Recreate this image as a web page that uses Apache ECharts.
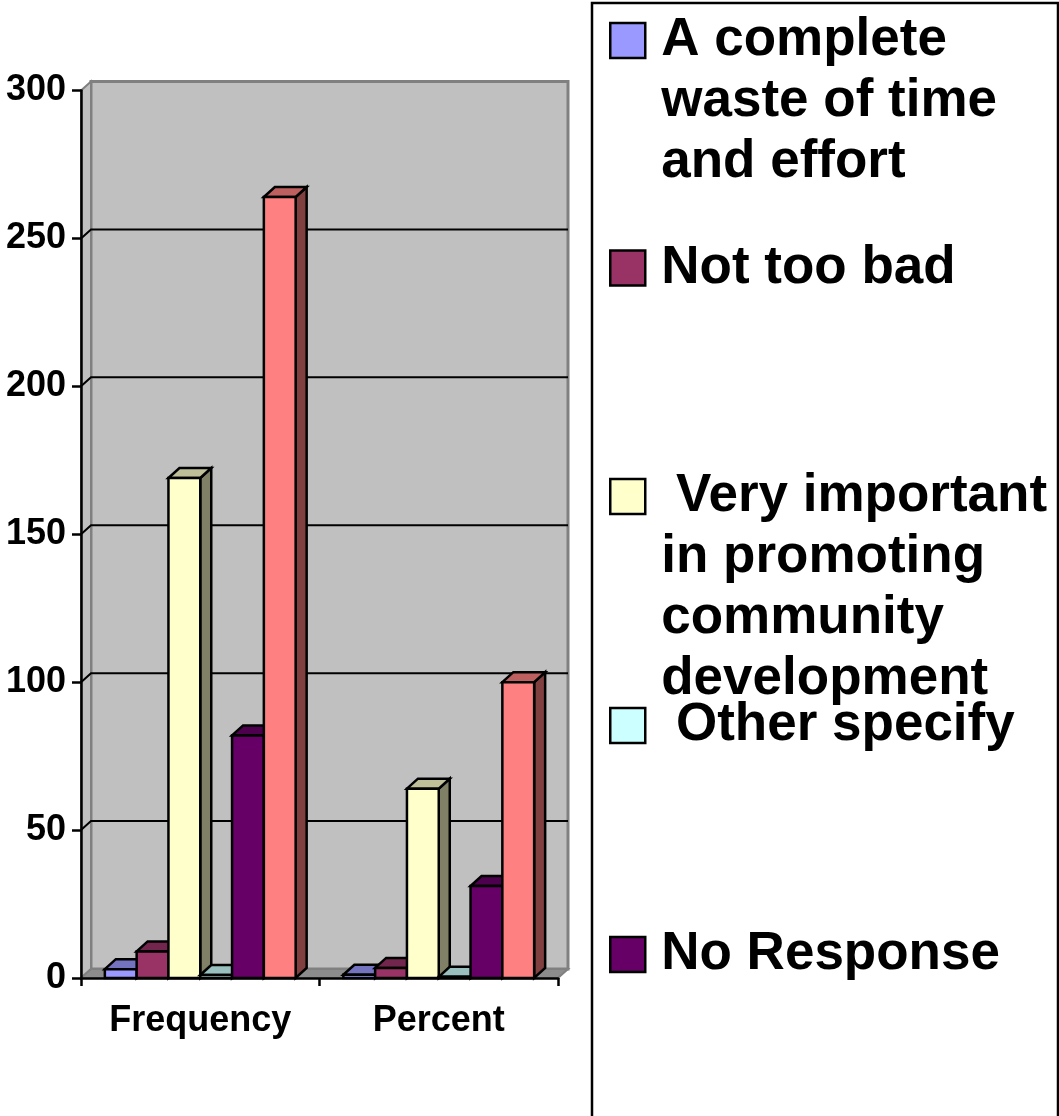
<!DOCTYPE html>
<html>
<head>
<meta charset="utf-8">
<script src="https://cdn.jsdelivr.net/npm/echarts@6/dist/echarts.min.js"></script>
<style>
  html, body { margin: 0; padding: 0; background: #fff; }
  #chart { width: 1059px; height: 1116px; }
</style>
</head>
<body>
<div id="chart"></div>
<script>
// ---- data ----
const categories = ['Frequency', 'Percent'];
const seriesNames = [
  'A complete\nwaste of time\nand effort',
  'Not too bad',
  ' Very important\nin promoting\ncommunity\ndevelopment',
  ' Other specify',
  'No Response',
  'Total'
];
const wasteOfTime   = [3, 1.1];
const notTooBad     = [9, 3.4];
const veryImportant = [169, 64.0];
const otherSpecify  = [1, 0.4];
const noResponse    = [82, 31.1];
const total         = [264, 100];
const yTicks = [0, 50, 100, 150, 200, 250, 300];

const seriesValues = [wasteOfTime, notTooBad, veryImportant, otherSpecify, noResponse, total];

// ---- look ----
const COLORS = ['#9999FF', '#993366', '#FFFFCC', '#CCFFFF', '#660066', '#FF8080'];
const FONT = '"Liberation Sans", Arial, sans-serif';
const BAR_SHARE = 0.8;       // share of a category band taken by the cluster
const DX = 11, DY = -10;     // column depth
const WDX = 10, WDY = -9;    // wall depth
const LEGEND_LINE = 61;
const LEGEND_ICON_CENTERS = [40.5, 268, 496.5, 725.5, 954.5];

function shade(hex, f) {
  const n = parseInt(hex.slice(1), 16);
  const r = Math.round(((n >> 16) & 255) * f);
  const g = Math.round(((n >> 8) & 255) * f);
  const b = Math.round((n & 255) * f);
  return 'rgb(' + r + ',' + g + ',' + b + ')';
}

// 3D column: front face, lit top, shaded side
function columnRenderer(idx, color) {
  const topFill = shade(color, 0.75);
  const sideFill = shade(color, 0.5);
  const count = seriesValues.length;
  return function (params, api) {
    const cat = api.value(0);
    const p = api.coord([cat, api.value(1)]);
    const b = api.coord([cat, 0]);
    const band = api.size([1, 0])[0];
    const w = band * BAR_SHARE / count;
    const x0 = p[0] - band * BAR_SHARE / 2 + idx * w;
    const x1 = x0 + w;
    const yt = p[1], yb = b[1];
    const edge = { stroke: '#000', lineWidth: 2.5 };
    return {
      type: 'group',
      children: [
        { type: 'polygon', shape: { points: [[x1, yt], [x1 + DX, yt + DY], [x1 + DX, yb + DY], [x1, yb]] },
          style: Object.assign({ fill: sideFill }, edge) },
        { type: 'polygon', shape: { points: [[x0, yt], [x0 + DX, yt + DY], [x1 + DX, yt + DY], [x1, yt]] },
          style: Object.assign({ fill: topFill }, edge) },
        { type: 'rect', shape: { x: x0, y: yt, width: w, height: yb - yt },
          style: Object.assign({ fill: color }, edge) }
      ]
    };
  };
}

// back wall, side wall, floor and gridlines
function wallsRenderer(params, api) {
  const cs = params.coordSys;
  const L = cs.x, R = cs.x + cs.width;
  const T = api.coord([0, yTicks[yTicks.length - 1]])[1];
  const B = api.coord([0, yTicks[0]])[1];
  const wall = '#C0C0C0', rim = '#808080';
  const children = [
    { type: 'rect', shape: { x: L + WDX, y: T + WDY, width: R - L, height: B - T },
      style: { fill: wall, stroke: rim, lineWidth: 3 } },
    { type: 'polygon', shape: { points: [[L, T], [L + WDX, T + WDY], [L + WDX, B + WDY], [L, B]] },
      style: { fill: wall, stroke: rim, lineWidth: 2 } },
    { type: 'polygon', shape: { points: [[L, B], [L + WDX, B + WDY], [R + WDX, B + WDY], [R, B]] },
      style: { fill: '#8C8C8C', stroke: rim, lineWidth: 2 } }
  ];
  yTicks.slice(1, -1).forEach(function (v) {
    const y = api.coord([0, v])[1];
    children.push({
      type: 'polyline',
      shape: { points: [[L, y], [L + WDX, y + WDY], [R + WDX, y + WDY]] },
      style: { stroke: '#000', lineWidth: 2, fill: null }
    });
  });
  return { type: 'group', children: children };
}

const series = [{
  type: 'custom',
  name: 'walls',
  silent: true,
  z: 1,
  data: [[0, 0]],
  encode: { x: 0, y: 1 },
  renderItem: wallsRenderer
}];
seriesValues.forEach(function (vals, i) {
  series.push({
    type: 'custom',
    name: seriesNames[i],
    z: 2,
    itemStyle: { color: COLORS[i] },
    data: vals.map(function (v, c) { return [c, v]; }),
    encode: { x: 0, y: 1 },
    renderItem: columnRenderer(i, COLORS[i])
  });
});

// one legend per entry so each swatch sits beside the first line of its label;
// leading blank lines keep the label's first line level with the swatch
const legends = seriesNames.slice(0, 5).map(function (name, i) {
  const lines = name.split('\n').length;
  return {
    data: [name],
    left: 609,
    top: LEGEND_ICON_CENTERS[i] - (2 * lines - 1) * LEGEND_LINE / 2,
    padding: 0,
    z: 5,
    selectedMode: false,
    icon: 'rect',
    itemWidth: 35,
    itemHeight: 35,
    itemStyle: { borderColor: '#000', borderWidth: 2.5 },
    formatter: function (n) { return '\n'.repeat(lines - 1) + n; },
    textStyle: {
      fontFamily: FONT, fontWeight: 'bold', fontSize: 53, lineHeight: LEGEND_LINE,
      color: '#000', padding: [0, 0, 0, 11]
    }
  };
});

const chart = echarts.init(document.getElementById('chart'), null, { renderer: 'canvas' });
chart.setOption({
  animation: false,
  backgroundColor: '#fff',
  grid: { left: 81, right: 501, top: 90.5, bottom: 138, containLabel: false },
  graphic: [{
    type: 'rect', z: 1,
    shape: { x: 592, y: 3, width: 466, height: 1200 },
    style: { fill: '#fff', stroke: '#000', lineWidth: 2.5 }
  }],
  legend: legends,
  xAxis: {
    type: 'category',
    data: categories,
    z: 3,
    axisLine: { lineStyle: { color: '#000', width: 2.5 } },
    axisTick: { show: true, length: 8, lineStyle: { color: '#000', width: 2.5 } },
    axisLabel: { color: '#000', fontFamily: FONT, fontWeight: 'bold', fontSize: 36, margin: 25 },
    splitLine: { show: false }
  },
  yAxis: {
    type: 'value',
    min: 0, max: 300, interval: 50,
    z: 3,
    axisLine: { show: true, lineStyle: { color: '#000', width: 2.5 } },
    axisTick: { show: true, length: 9, lineStyle: { color: '#000', width: 2.5 } },
    axisLabel: { color: '#000', fontFamily: FONT, fontWeight: 'bold', fontSize: 36, margin: 15 },
    splitLine: { show: false }
  },
  series: series
});
</script>
</body>
</html>
